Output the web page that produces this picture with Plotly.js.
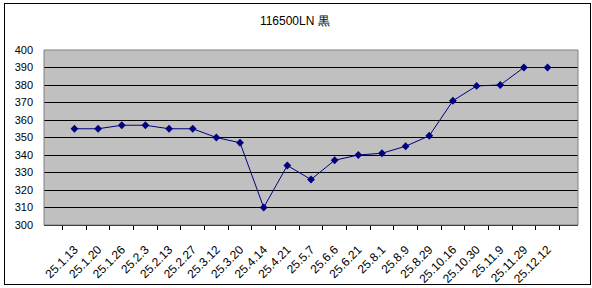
<!DOCTYPE html>
<html><head><meta charset="utf-8">
<script src="https://cdn.plot.ly/plotly-3.0.1.min.js"></script>
<style>
html,body{margin:0;padding:0;background:#fff;}
#chart{width:592px;height:288px;position:absolute;left:0;top:0;}
#frame{position:absolute;left:4px;top:3px;width:585px;height:280px;border:1px solid #000;pointer-events:none;}
</style></head>
<body>
<div id="chart"></div>
<div id="frame"></div>
<script>
const dates = ["25.1.13","25.1.20","25.1.26","25.2.3","25.2.13","25.2.27","25.3.12","25.3.20","25.4.14","25.4.21","25.5.7","25.6.6","25.6.21","25.8.1","25.8.9","25.8.29","25.10.16","25.10.30","25.11.9","25.11.29","25.12.12"];
const prices = [355,355,357,357,355,355,350,347,310,334,326,337,340,341,345,351,371,379.5,380,390,390];
const titleText = "116500LN 黒";
const yTicks = [300,310,320,330,340,350,360,370,380,390,400];

const trace = {
  x: dates, y: prices, type: "scatter", mode: "lines+markers",
  line: {color: "#000080", width: 1},
  marker: {symbol: "diamond", size: 6, color: "#000080"},
  cliponaxis: false
};
const layout = {
  width: 592, height: 288,
  margin: {l: 44, r: 14, t: 50, b: 63},
  paper_bgcolor: "#fff", plot_bgcolor: "#c0c0c0",
  showlegend: false,
  title: {text: titleText, x: 0.498, xanchor: "center", y: 0.927, yanchor: "middle",
          font: {family: "Liberation Sans, Arial, sans-serif", size: 12, color: "#000"}},
  xaxis: {type: "category", tickangle: -45, tickson: "boundaries", ticks: "outside",
          ticklen: 4, tickcolor: "#000", showgrid: false, showline: true, linecolor: "#000", linewidth: 1,
          mirror: false, zeroline: false, ticklabelstandoff: 12,
          tickfont: {family: "Liberation Sans, Arial, sans-serif", size: 12, color: "#000"}},
  yaxis: {range: [300, 400], tickvals: yTicks, ticktext: yTicks.map(String), showgrid: true,
          gridcolor: "#000", gridwidth: 1, ticks: "", showline: false, zeroline: false,
          ticklabelstandoff: 10,
          tickfont: {family: "Liberation Sans, Arial, sans-serif", size: 11, color: "#000"}},
  shapes: [{type: "rect", xref: "paper", yref: "paper", x0: 0, x1: 1, y0: 0, y1: 1,
            line: {color: "#808080", width: 1}, fillcolor: "rgba(0,0,0,0)", layer: "above"}]
};
Plotly.newPlot("chart", [trace], layout, {displayModeBar: false, staticPlot: true});
</script>
</body></html>
